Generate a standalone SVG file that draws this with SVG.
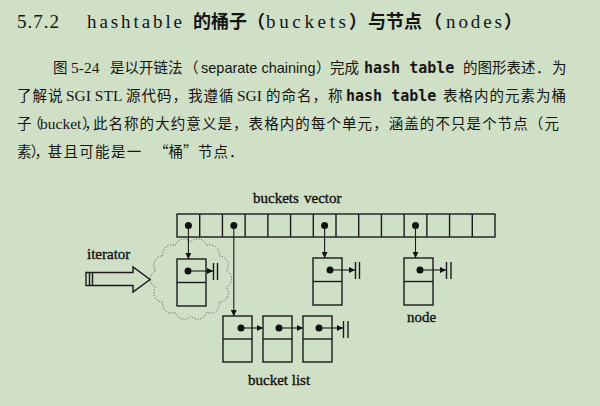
<svg xmlns="http://www.w3.org/2000/svg" width="600" height="406" viewBox="0 0 600 406">
<style>
.cj{font-family:"Noto Sans CJK SC",sans-serif;font-size:14.5px;fill:#151515}
.cjb{font-family:"Noto Sans CJK SC",sans-serif;font-size:18px;font-weight:bold;fill:#151515}
.tm{font-family:"Liberation Serif",serif;font-size:15.5px;fill:#151515}
.tt{font-family:"Liberation Serif",serif;font-size:19px;fill:#151515}
.ar{font-family:"Liberation Sans",sans-serif;font-size:14.5px;fill:#151515}
.mo{font-family:"DejaVu Sans Mono","Liberation Mono",monospace;font-size:15px;font-weight:bold;fill:#151515}
.lbl{font-family:"Liberation Serif",serif;font-size:15px;fill:#111;stroke:#111;stroke-width:0.35}
.box{fill:none;stroke:#1a1a1a;stroke-width:1.4}
.dot{fill:#111}
.ptr{fill:none;stroke:#1a1a1a;stroke-width:1.1}
.bar{stroke:#1a1a1a;stroke-width:1.4}
</style>
<defs>
<marker id="ah" viewBox="0 0 8 8" refX="8" refY="4" markerWidth="6" markerHeight="6" markerUnits="userSpaceOnUse" orient="auto">
<path d="M0,0 L8,4 L0,8 z" fill="#111"/>
</marker>
</defs>
<rect width="600" height="406" fill="#cfe0c6"/>

<g id="title">
<text y="28"><tspan class="tt" x="17" textLength="42" lengthAdjust="spacing">5.7.2</tspan><tspan class="tt" x="87" textLength="95" lengthAdjust="spacing">hashtable</tspan><tspan class="cjb" x="193">的桶子</tspan><tspan class="cjb" x="247">（</tspan><tspan class="tt" x="266" textLength="80" lengthAdjust="spacing">buckets</tspan><tspan class="cjb" x="349">）</tspan><tspan class="cjb" x="368">与节点</tspan><tspan class="cjb" x="424">（</tspan><tspan class="tt" x="446" textLength="56" lengthAdjust="spacing">nodes</tspan><tspan class="cjb" x="504">）</tspan></text>
</g>

<g id="paragraph">
<text y="73"><tspan class="cj" x="53">图</tspan><tspan class="tm" x="71">5-24</tspan><tspan class="cj" x="110">是以开链法</tspan><tspan class="cj" x="184">（</tspan><tspan class="ar" x="201">separate chaining</tspan><tspan class="cj" x="316">）</tspan><tspan class="cj" x="330">完成</tspan><tspan class="mo" x="364">hash table</tspan><tspan class="cj" x="463">的图形表述</tspan><tspan class="cj" x="536">．</tspan><tspan class="cj" x="552">为</tspan></text>
<text y="101"><tspan class="cj" x="17" letter-spacing="1">了解说</tspan><tspan class="tm" x="66">SGI STL</tspan><tspan class="cj" x="126" letter-spacing="1">源代码，我遵循</tspan><tspan class="tm" x="237">SGI</tspan><tspan class="cj" x="266" letter-spacing="1">的命名，称</tspan><tspan class="mo" x="346">hash table</tspan><tspan class="cj" x="443" letter-spacing="1">表格内的元素为桶</tspan></text>
<text y="129"><tspan class="cj" x="17" dx="0 -4">子（</tspan><tspan class="tm" x="40" font-size="13.5">bucket</tspan><tspan class="cj" x="82" dx="0 -6 -7" letter-spacing="1.07">），此名称的大约意义是，表格内的每个单元，涵盖的不只是个节点（元</tspan></text>
<text y="157"><tspan class="cj" x="17" dx="0 -2 -5 -2.5" letter-spacing="1.3">素），甚且可能是一</tspan><tspan class="cj" x="154">“桶”</tspan><tspan class="cj" x="198" letter-spacing="1">节点．</tspan></text>
</g>

<g id="buckets-vector">
<text class="lbl" y="203"><tspan x="253">buckets</tspan><tspan x="304">vector</tspan></text>
<rect class="box" x="177" y="214" width="318" height="23"/>
<path class="box" d="M199.71 214V237M222.43 214V237M245.14 214V237M267.86 214V237M290.57 214V237M313.29 214V237M336 214V237M358.71 214V237M381.43 214V237M404.14 214V237M426.86 214V237M449.57 214V237M472.29 214V237"/>
<circle class="dot" cx="188.4" cy="225.5" r="3.5"/>
<circle class="dot" cx="233.8" cy="225.5" r="3.5"/>
<circle class="dot" cx="324.6" cy="225.5" r="3.5"/>
<circle class="dot" cx="415.5" cy="225.5" r="3.5"/>
</g>

<g id="iterator">
<text class="lbl" x="87" y="259">iterator</text>
<path class="box" d="M86 272.5H133V267L150 279.5L133 292V285.5H86Z"/>
<path class="box" d="M89.5 272.5V285.5M92.5 272.5V285.5"/>
</g>

<g id="cloud">
<path d="M191 242A9 9 0 0 1 206.6 245.7A9 9 0 0 1 219.1 255.9A9 9 0 0 1 226.1 270.7A9 9 0 0 1 226.1 287.3A9 9 0 0 1 219.1 302.1A9 9 0 0 1 206.6 312.3A9 9 0 0 1 191 316A9 9 0 0 1 175.4 312.3A9 9 0 0 1 162.9 302.1A9 9 0 0 1 155.9 287.3A9 9 0 0 1 155.9 270.7A9 9 0 0 1 162.9 255.9A9 9 0 0 1 175.4 245.7A9 9 0 0 1 191 242Z" fill="none" stroke="#444" stroke-width="0.8" stroke-dasharray="1.2 1.6"/>
</g>

<g id="node-a">
<rect class="box" x="177" y="259" width="29" height="47"/>
<path class="box" d="M177 282.5H206"/>
<circle class="dot" cx="188" cy="271" r="3.5"/>
</g>
<g id="node-c">
<rect class="box" x="313" y="258" width="29" height="47"/>
<path class="box" d="M313 281.5H342"/>
<circle class="dot" cx="330" cy="270" r="3.5"/>
</g>
<g id="node-d">
<rect class="box" x="404" y="258" width="29" height="47"/>
<path class="box" d="M404 281.5H433"/>
<circle class="dot" cx="420" cy="270" r="3.5"/>
<text class="lbl" x="407" y="322">node</text>
</g>
<g id="bucket-1">
<rect class="box" x="223" y="316" width="29" height="46"/>
<path class="box" d="M223 339H252"/>
<circle class="dot" cx="241" cy="328" r="3.5"/>
</g>
<g id="bucket-2">
<rect class="box" x="263" y="316" width="29" height="46"/>
<path class="box" d="M263 339H292"/>
<circle class="dot" cx="279" cy="328" r="3.5"/>
</g>
<g id="bucket-3">
<rect class="box" x="303" y="316" width="29" height="46"/>
<path class="box" d="M303 339H332"/>
<circle class="dot" cx="319" cy="328" r="3.5"/>
</g>
<text class="lbl" x="248" y="385">bucket list</text>

<g id="connectors">
<path class="ptr" d="M188.4 225.5V259" marker-end="url(#ah)"/>
<path class="ptr" d="M233.8 225.5V316" marker-end="url(#ah)"/>
<path class="ptr" d="M324.6 225.5V258" marker-end="url(#ah)"/>
<path class="ptr" d="M415.5 225.5V258" marker-end="url(#ah)"/>
<path class="ptr" d="M188 271H213" marker-end="url(#ah)"/>
<path class="bar" d="M213.5 263V280M217.5 263V280"/>
<path class="ptr" d="M330 270H355" marker-end="url(#ah)"/>
<path class="bar" d="M355.5 262V279M359.5 262V279"/>
<path class="ptr" d="M420 270H446" marker-end="url(#ah)"/>
<path class="bar" d="M446.5 262V279M451 262V279"/>
<path class="ptr" d="M241 328H263" marker-end="url(#ah)"/>
<path class="ptr" d="M279 328H303" marker-end="url(#ah)"/>
<path class="ptr" d="M319 328H343" marker-end="url(#ah)"/>
<path class="bar" d="M343.5 321V338M348 321V338"/>
</g>
</svg>
